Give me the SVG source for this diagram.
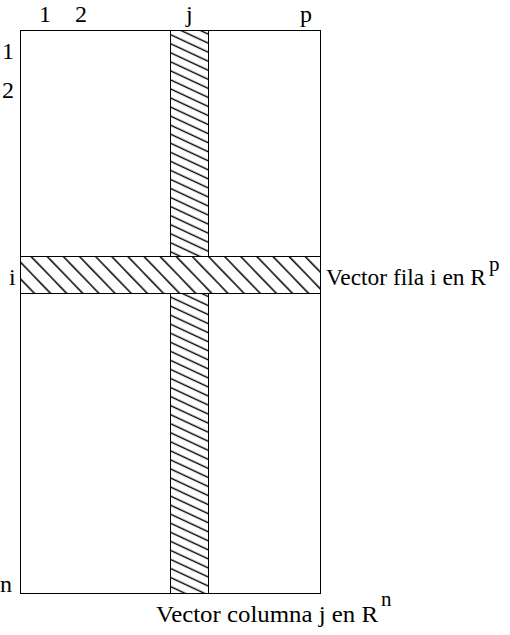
<svg xmlns="http://www.w3.org/2000/svg" width="510" height="635" viewBox="0 0 510 635">
<style>
text{font-family:"Liberation Serif","Times New Roman",serif;font-size:24px;fill:#000}
.s{font-size:21px}
.b{fill:none;stroke:#000;stroke-width:1}
</style>
<defs>
<pattern id="hc" patternUnits="userSpaceOnUse" width="20" height="8.2" patternTransform="translate(170 30) rotate(25)">
<line x1="-5" y1="4" x2="25" y2="4" stroke="#000" stroke-width="1.4"/>
</pattern>
<pattern id="hr" patternUnits="userSpaceOnUse" width="20" height="11.6" patternTransform="translate(20 256) rotate(46)">
<line x1="-5" y1="4" x2="25" y2="4" stroke="#000" stroke-width="1.5"/>
</pattern>
</defs>
<g id="matrix">
<rect class="b" x="20.5" y="30.5" width="300" height="563"/>
</g>
<g id="column">
<rect x="170.5" y="30.5" width="38" height="563" fill="url(#hc)" stroke="#000" stroke-width="1"/>
</g>
<g id="row">
<rect x="20.5" y="256.5" width="300" height="37" fill="#fff"/>
<rect x="20.5" y="256.5" width="300" height="37" fill="url(#hr)" stroke="#000" stroke-width="1"/>
</g>
<g id="labels">
<text x="39" y="22">1</text>
<text x="75" y="22">2</text>
<text x="186" y="22">j</text>
<text x="300" y="22">p</text>
<text x="2" y="59">1</text>
<text x="2" y="98">2</text>
<text x="9" y="285">i</text>
<text x="0" y="592">n</text>
<text x="326" y="285" textLength="160" lengthAdjust="spacingAndGlyphs">Vector fila i en R</text>
<text class="s" x="489" y="271">p</text>
<text x="156" y="622" textLength="222" lengthAdjust="spacingAndGlyphs">Vector columna j en R</text>
<text class="s" x="381" y="606">n</text>
</g>
</svg>
